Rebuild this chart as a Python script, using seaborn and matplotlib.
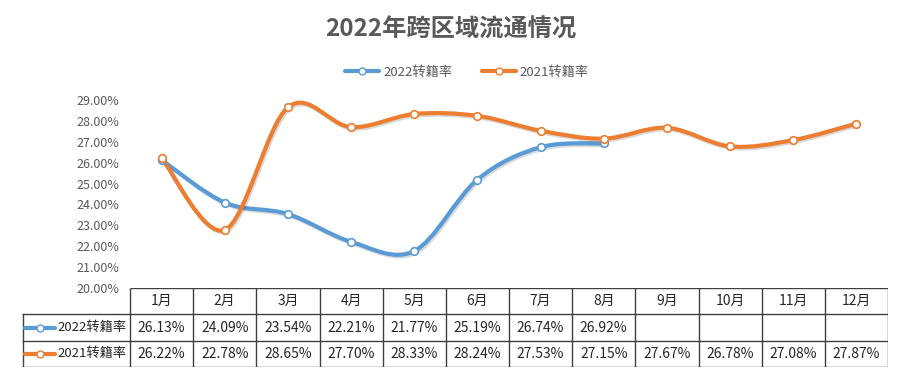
import numpy as np
import seaborn as sns
import matplotlib.pyplot as plt
from matplotlib.path import Path
from matplotlib.patches import PathPatch
from matplotlib.lines import Line2D
import matplotlib.patheffects as pe

# 数据
months = ['1月', '2月', '3月', '4月', '5月', '6月', '7月', '8月', '9月', '10月', '11月', '12月']
rate_2022 = [26.13, 24.09, 23.54, 22.21, 21.77, 25.19, 26.74, 26.92]
rate_2021 = [26.22, 22.78, 28.65, 27.70, 28.33, 28.24, 27.53, 27.15, 27.67, 26.78, 27.08, 27.87]
series_names = ['2022转籍率', '2021转籍率']

BLUE = '#5B9BD5'
ORANGE = '#ED7D31'
GREY = '#595959'
GRID = '#404040'

sns.set_theme(style='white')
plt.rcParams['font.family'] = ['Noto Sans CJK SC', 'DejaVu Sans']

W, H = 902, 377
fig = plt.figure(figsize=(W / 100, H / 100), dpi=100)


def px_box(x0, y0, x1, y1):
    # pixel box (top-left origin) -> figure fraction
    return [x0 / W, 1 - y1 / H, (x1 - x0) / W, (y1 - y0) / H]


ax = fig.add_axes(px_box(130, 100, 888, 288))


def smooth_path(xs, ys):
    # Excel-like smoothed line: Catmull-Rom as cubic Bezier segments
    pts = np.column_stack([xs, ys]).astype(float)
    n = len(pts)
    verts = [pts[0]]
    codes = [Path.MOVETO]
    for i in range(n - 1):
        p0 = pts[i - 1] if i > 0 else pts[i]
        p1, p2 = pts[i], pts[i + 1]
        p3 = pts[i + 2] if i + 2 < n else pts[i + 1]
        c1 = p1 + (p2 - p0) / 6
        c2 = p2 - (p3 - p1) / 6
        verts += [c1, c2, p2]
        codes += [Path.CURVE4] * 3
    return Path(verts, codes)


shadow = [pe.SimpleLineShadow(offset=(1, -1.2), alpha=0.15, shadow_color='black'), pe.Normal()]
for vals, color in [(rate_2022, BLUE), (rate_2021, ORANGE)]:
    x = np.arange(len(vals))
    patch = PathPatch(smooth_path(x, vals), facecolor='none', edgecolor=color,
                      lw=3, capstyle='round', joinstyle='round', clip_on=False,
                      path_effects=shadow)
    ax.add_patch(patch)
    sns.scatterplot(x=x, y=vals, ax=ax, color='white', edgecolor=color,
                    linewidth=1.2, s=30, zorder=5, clip_on=False, legend=False)

ax.set_xlim(-0.5, 11.5)
ax.set_ylim(20, 29)
ax.set_yticks(np.arange(20, 29.01, 1))
ax.set_yticklabels([f'{v:.2f}%' for v in np.arange(20, 29.01, 1)], fontsize=9, color=GREY)
ax.set_xticks([])
ax.tick_params(axis='y', length=0, pad=8)
for s in ['top', 'right', 'left', 'bottom']:
    ax.spines[s].set_visible(False)
ax.patch.set_alpha(0)

# 标题与图例
fig.text(0.5, 1 - 30 / H, '2022年跨区域流通情况', ha='center', va='center',
         fontsize=17.5, fontweight='bold', color=GREY)
handles = [Line2D([0], [0], color=c, lw=3, marker='o', markersize=5,
                  markerfacecolor='white', markeredgecolor=c)
           for c in (BLUE, ORANGE)]
fig.legend(handles, series_names, loc='center', bbox_to_anchor=(467 / W, 1 - 72 / H),
           ncol=2, frameon=False, fontsize=9.5, labelcolor=GREY, handlelength=2.6,
           columnspacing=2.2, handletextpad=0.3)

# 数据表
unit = (888 - 130) / 12
tx0 = -0.5 - (130 - 22) / unit
tax = fig.add_axes(px_box(22, 288, 888, 367))
tax.set_xlim(tx0, 11.5)
tax.set_ylim(3, 0)
tax.axis('off')

lc = dict(color=GRID, lw=1, solid_capstyle='butt')
tax.plot([-0.5, 11.5], [0, 0], **lc)
for yy in (1, 2, 3):
    tax.plot([tx0, 11.5], [yy, yy], **lc)
for i in range(13):
    tax.plot([i - 0.5, i - 0.5], [0, 3], **lc)
tax.plot([tx0 + 0.01, tx0 + 0.01], [1, 3], **lc)

for i, m in enumerate(months):
    tax.text(i, 0.5, m, ha='center', va='center', fontsize=10, color='#262626')

rows = [rate_2022, rate_2021]
for r, (vals, color, name) in enumerate(zip(rows, (BLUE, ORANGE), series_names)):
    yy = r + 1.5
    gx0 = tx0 + 3 / unit
    gx1 = tx0 + 33 / unit
    tax.plot([gx0, gx1], [yy, yy], color=color, lw=3, solid_capstyle='round')
    tax.plot([(gx0 + gx1) / 2], [yy], marker='o', markersize=5,
             markerfacecolor='white', markeredgecolor=color)
    tax.text(tx0 + 35 / unit, yy, name, ha='left', va='center', fontsize=9.5, color='#262626')
    for i, v in enumerate(vals):
        tax.text(i, yy, f'{v:.2f}%', ha='center', va='center', fontsize=10, color='#262626')

fig.savefig('out.png', dpi=100)
